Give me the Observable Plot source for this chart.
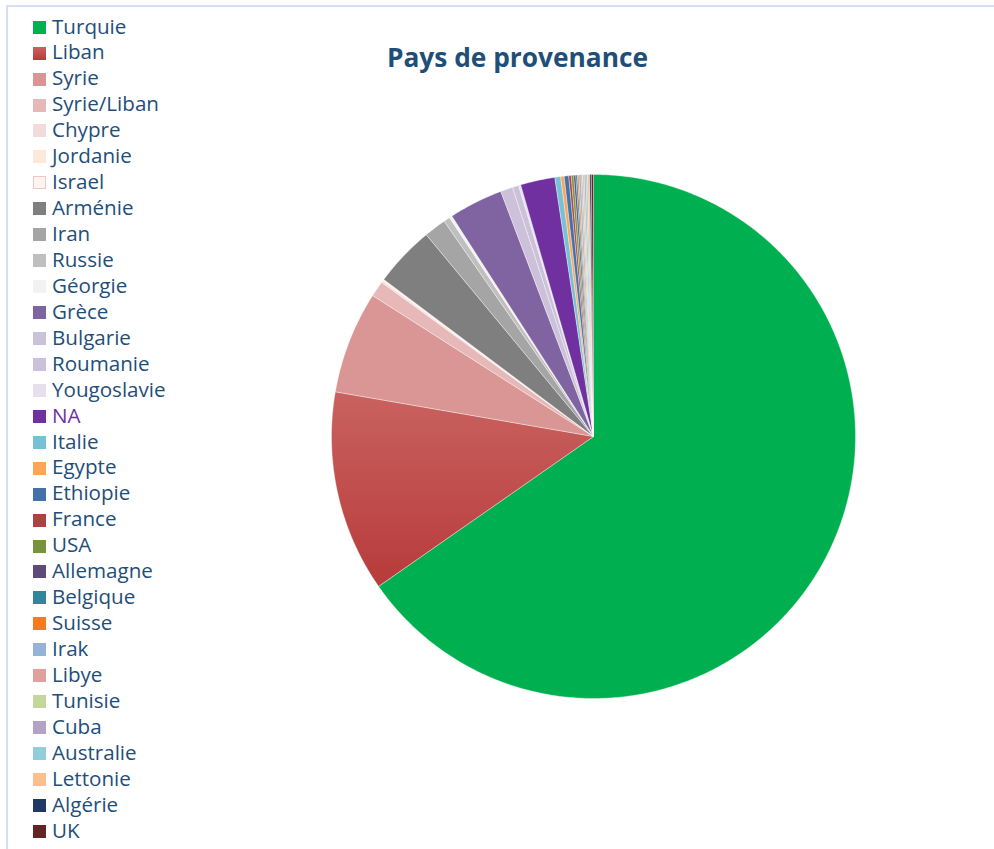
<!DOCTYPE html>
<html>
<head>
<meta charset="utf-8">
<script src="https://cdn.jsdelivr.net/npm/d3@7"></script>
<script src="https://cdn.jsdelivr.net/npm/@observablehq/plot@0.6"></script>
<style>
  html, body { margin: 0; padding: 0; background: #fff; }
  #wrap { position: relative; width: 994px; height: 849px; overflow: hidden; font-family: "Open Sans", sans-serif; }
  #frame { position: absolute; left: 6px; top: 5px; width: 990px; height: 860px; border-left: 2px solid #d3e0f1; border-top: 2px solid #d3e0f1; box-sizing: border-box; }
  #chart { position: absolute; left: 0; top: 0; }
  #title { position: absolute; left: 0; width: 1035px; top: 40px; text-align: center; font-weight: 700; font-size: 26.3px; color: #1f4e79; line-height: 34px; }
  .row { position: absolute; left: 0; height: 26px; line-height: 26px; font-size: 20.6px; color: #1f4e79; white-space: nowrap; }
  .sw { position: absolute; width: 13px; height: 13px; left: 33px; box-sizing: border-box; }
</style>
</head>
<body>
<svg width="0" height="0" style="position:absolute">
  <defs>
    <linearGradient id="libanGrad" x1="0" y1="0" x2="0" y2="1">
      <stop offset="0" stop-color="#c9625f"/>
      <stop offset="1" stop-color="#b73b3b"/>
    </linearGradient>
  </defs>
</svg>
<div id="wrap">
  <div id="frame"></div>
  <div id="chart"></div>
  <div id="title">Pays de provenance</div>
  <div id="legend"></div>
</div>
<script>
const names = ["Turquie","Liban","Syrie","Syrie/Liban","Chypre","Jordanie","Israel","Arménie","Iran","Russie","Géorgie","Grèce","Bulgarie","Roumanie","Yougoslavie","NA","Italie","Egypte","Ethiopie","France","USA","Allemagne","Belgique","Suisse","Irak","Libye","Tunisie","Cuba","Australie","Lettonie","Algérie","UK"];
const values = [65.2,12.4,6.3,0.97,0.11,0.06,0.05,3.75,1.36,0.39,0.17,3.33,0.75,0.39,0.13,2.12,0.36,0.21,0.28,0.15,0.15,0.125,0.1,0.09,0.13,0.09,0.11,0.1,0.1,0.13,0.1,0.13];
const colors = ["#00b050","url(#libanGrad)","#d99694","#e6b9b8","#f2dcdb","#fde9d9","#fff4ef","#7f7f7f","#a5a5a5","#bfbfbf","#f2f2f2","#8064a2","#ccc1da","#ccc1da","#e5e0ec","#7030a0","#78c0d4","#f9a65a","#4472a8","#a94442","#77933c","#604a7b","#31859c","#f87a1e","#95b3d7","#e0a09e","#c3d69b","#b3a2c7","#92cddc","#fac090","#1f3864","#632523"];
const swatchColors = colors.map(c => c.startsWith("url") ? "linear-gradient(#c9625f, #b73b3b)" : c);
const labelColors = names.map(n => n === "NA" ? "#7030a0" : "#1f4e79");

const arcs = d3.pie().sort(null).value(d => d)(values);
const pts = [];
arcs.forEach((a, i) => {
  const n = Math.max(2, Math.ceil((a.endAngle - a.startAngle) / (Math.PI / 360)));
  pts.push({name: names[i], x: 0, y: 0});
  for (let k = 0; k <= n; k++) {
    const t = a.startAngle + (a.endAngle - a.startAngle) * k / n;
    pts.push({name: names[i], x: Math.sin(t), y: Math.cos(t)});
  }
  pts.push({name: names[i], x: 0, y: 0});
});

const chart = Plot.plot({
  width: 994,
  height: 849,
  margin: 0,
  style: {background: "transparent"},
  x: {domain: [-1, 1], range: [331, 855], axis: null},
  y: {domain: [-1, 1], range: [698, 174], axis: null},
  color: {domain: names, range: colors},
  marks: [
    Plot.line(pts, {x: "x", y: "y", z: "name", fill: "name", stroke: "#ffffff", strokeWidth: 0.6, strokeOpacity: 0.6, curve: "linear"})
  ]
});
document.getElementById("chart").appendChild(chart);

const legend = document.getElementById("legend");
names.forEach((n, i) => {
  const sw = document.createElement("div");
  sw.className = "sw";
  sw.style.top = (20.7 + i * 25.94) + "px";
  sw.style.background = swatchColors[i];
  if (n === "Israel") sw.style.border = "1.5px solid #f2c6c4";
  legend.appendChild(sw);
  const row = document.createElement("div");
  row.className = "row";
  row.style.left = "52px";
  row.style.top = (12.5 + i * 25.94) + "px";
  row.style.color = labelColors[i];
  row.textContent = n;
  legend.appendChild(row);
});
</script>
</body>
</html>
